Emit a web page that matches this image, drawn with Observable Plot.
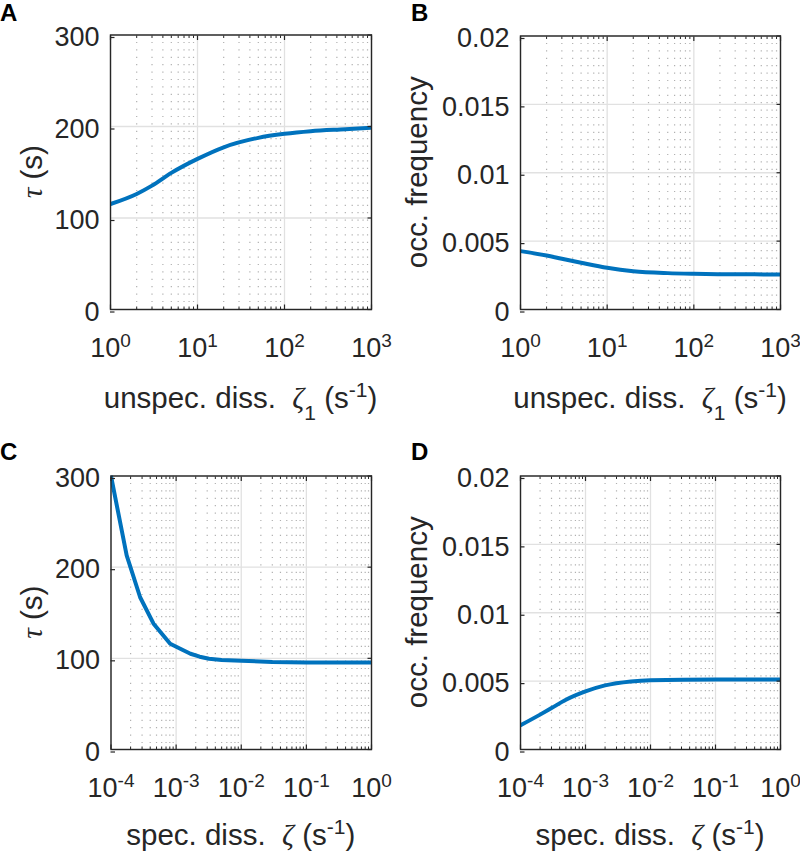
<!DOCTYPE html>
<html><head><meta charset="utf-8">
<script src="https://cdn.jsdelivr.net/npm/d3@7"></script>
<script src="https://cdn.jsdelivr.net/npm/@observablehq/plot@0.6"></script>
<style>
body{margin:0;background:#fff;}
#wrap{position:relative;width:800px;height:854px;font-family:"Liberation Sans",Arial,sans-serif;}
#wrap svg{position:absolute;overflow:visible;}
</style></head><body><div id="wrap"></div>
<script>
// ---- Panel A: tau vs unspecific dissociation zeta1
const zeta1A = [1, 2, 3, 5, 10, 20, 50, 100, 200, 500, 1000];
const tauA   = [115.3, 126.3, 135.4, 149.3, 164.6, 177.3, 187.6, 192.0, 194.9, 197.0, 198.6];
// ---- Panel B: occupancy frequency vs zeta1
const zeta1B = [1, 2, 3, 5, 10, 20, 50, 100, 200, 500, 1000];
const occB   = [0.00427, 0.00395, 0.00371, 0.00342, 0.00305, 0.00280, 0.00266, 0.00261, 0.00258, 0.00257, 0.00256];
// ---- Panel C: tau vs specific dissociation zeta
const zetaC  = [1e-4, 1.74e-4, 2.8e-4, 4.5e-4, 8.1e-4, 1.2e-3, 1.66e-3, 2.3e-3, 3.2e-3, 5e-3, 1e-2, 3e-2, 1e-1, 1];
const tauC   = [300, 213, 167, 138, 116, 110, 105, 101.8, 99.5, 98.2, 97.3, 96.0, 95.5, 95.3];
// ---- Panel D: occupancy frequency vs zeta
const zetaD  = [1e-4, 2e-4, 3e-4, 5e-4, 1e-3, 2e-3, 5e-3, 1e-2, 1e-1, 1];
const occD   = [0.00177, 0.00255, 0.00303, 0.00364, 0.00425, 0.00469, 0.00498, 0.00507, 0.00512, 0.00512];

// ---- tick values / labels
const tauTicks = [0, 100, 200, 300];
const tauTickLabels = ["0", "100", "200", "300"];
const occTicks = [0, 0.005, 0.01, 0.015, 0.02];
const occTickLabels = ["0", "0.005", "0.01", "0.015", "0.02"];
const xTicksTop = [1, 10, 100, 1000];
const xExpTop = ["0", "1", "2", "3"];
const xTicksBottom = [1e-4, 1e-3, 1e-2, 1e-1, 1];
const xExpBottom = ["-4", "-3", "-2", "-1", "0"];

const panelLetters = ["A", "B", "C", "D"];
const yLabelTau = "(s)";
const yLabelOcc = "occ. frequency";
const xLabelTop = "unspec. diss.";
const xLabelBottom = "spec. diss.";

const BLUE = "#0072bd", INK = "#262626";
const TICK_FS = 27, LABEL_FS = 29.5;
const FONT = '"Liberation Sans", Arial, sans-serif';

const wrap = document.getElementById("wrap");

function makePanel(cfg) {
  const xs = cfg.x, ys = cfg.y;
  const data = xs.map((d, i) => ({x: d, y: ys[i]}));
  const majors = cfg.xTicks;
  const minors = d3.scaleLog().domain(cfg.xDomain).ticks().filter(t => !majors.some(m => Math.abs(m - t) / m < 1e-9));
  const expMap = new Map(majors.map((m, i) => [m, cfg.xExp[i]]));
  const yLabMap = new Map(cfg.yTicks.map((m, i) => [m, cfg.yTickLabels[i]]));
  const svg = Plot.plot({
    width: 400, height: 427,
    marginLeft: cfg.ml, marginRight: cfg.mr, marginTop: cfg.mt, marginBottom: cfg.mb,
    style: {fontFamily: FONT, fontSize: TICK_FS + "px", color: INK, background: "transparent", overflow: "visible"},
    x: {type: "log", domain: cfg.xDomain},
    y: {domain: cfg.yDomain},
    marks: [
      Plot.ruleX(minors, {stroke: "#b0b0b0", strokeWidth: 1.2, strokeDasharray: "1.2,6.2"}),
      Plot.ruleX(majors, {stroke: "#e1e1e1", strokeWidth: 1.3}),
      Plot.ruleY(cfg.yTicks, {stroke: "#e1e1e1", strokeWidth: 1.3}),
      Plot.line(data, {x: "x", y: "y", stroke: BLUE, strokeWidth: 4, strokeLinejoin: "round", curve: cfg.curve, clip: true}),
      Plot.axisX(majors, {anchor: "bottom", tickSize: -4.5, tickPadding: 33, tickFormat: d => "10^" + expMap.get(d), label: null, fontSize: TICK_FS, strokeWidth: 1.2}),
      Plot.axisX(majors, {anchor: "top", tickSize: -4.5, tickFormat: () => "", label: null, strokeWidth: 1.2}),
      Plot.axisX(minors, {anchor: "bottom", tickSize: -2.5, tickFormat: () => "", label: null, strokeWidth: 1}),
      Plot.axisX(minors, {anchor: "top", tickSize: -2.5, tickFormat: () => "", label: null, strokeWidth: 1}),
      Plot.axisY(cfg.yTicks, {anchor: "left", tickSize: -4.5, tickPadding: 15.5, dy: 2.5, tickFormat: d => yLabMap.get(d), label: null, fontSize: TICK_FS, strokeWidth: 1.2}),
      Plot.axisY(cfg.yTicks, {anchor: "right", tickSize: -4.5, tickFormat: () => "", label: null, strokeWidth: 1.2}),
      Plot.frame({stroke: INK, strokeWidth: 1.4})
    ]
  });
  svg.style.left = cfg.left + "px";
  svg.style.top = cfg.top + "px";

  // superscript exponents in x tick labels
  d3.select(svg).selectAll("text").each(function() {
    const m = /^10\^(-?\d+)$/.exec(this.textContent);
    if (m) {
      this.textContent = "10";
      d3.select(this).append("tspan").attr("dy", -10.5).attr("font-size", 19).text(m[1]);
    }
  });

  const s = d3.select(svg);
  const plotCx = cfg.ml + (400 - cfg.ml - cfg.mr) / 2;
  const plotCy = cfg.mt + (427 - cfg.mt - cfg.mb) / 2;
  // panel letter
  s.append("text").attr("x", cfg.letterX).attr("y", cfg.letterY).attr("text-anchor", "start")
    .attr("font-size", 24).attr("font-weight", "bold").attr("fill", "#000")
    .attr("font-family", FONT).text(cfg.letter);
  // x label
  const xl = s.append("text").attr("x", plotCx).attr("y", cfg.xLabelY).attr("text-anchor", "middle")
    .attr("font-size", LABEL_FS).attr("fill", INK).attr("font-family", FONT);
  xl.append("tspan").text(cfg.xLabel + "\u00a0 ");
  xl.append("tspan").attr("font-family", '"Liberation Serif", serif').attr("font-style", "italic").text("ζ");
  if (cfg.sub) {
    xl.append("tspan").attr("dy", 12).attr("font-size", 21).text(cfg.sub);
    xl.append("tspan").attr("dy", -12).text(" (s");
  } else {
    xl.append("tspan").text(" (s");
  }
  xl.append("tspan").attr("dy", -11).attr("font-size", 21).text("-1");
  xl.append("tspan").attr("dy", 11).text(")");
  // y label
  const yl = s.append("text").attr("transform", `translate(${cfg.yLabelX},${plotCy}) rotate(-90)`)
    .attr("text-anchor", "middle").attr("font-size", LABEL_FS).attr("fill", INK).attr("font-family", FONT);
  if (cfg.tau) {
    yl.append("tspan").attr("font-family", '"Liberation Serif", serif').attr("font-style", "italic").text("τ");
    yl.append("tspan").text(" " + yLabelTau);
  } else {
    yl.text(yLabelOcc);
  }
  wrap.appendChild(svg);
}

makePanel({x: zeta1A, y: tauA, xDomain: [1, 1000], yDomain: [0, 300], xTicks: xTicksTop, xExp: xExpTop,
  yTicks: tauTicks, yTickLabels: tauTickLabels, ml: 110, mr: 29, mt: 34.5, mb: 118, left: 0, top: 0, curve: "monotone-x",
  letter: panelLetters[0], letterX: 0, letterY: 21, xLabel: xLabelTop, sub: "1", xLabelY: 408, yLabelX: 42, tau: true});
makePanel({x: zeta1B, y: occB, xDomain: [1, 1000], yDomain: [0, 0.02], xTicks: xTicksTop, xExp: xExpTop,
  yTicks: occTicks, yTickLabels: occTickLabels, ml: 120, mr: 20, mt: 35.5, mb: 118, left: 400, top: 0, curve: "monotone-x",
  letter: panelLetters[1], letterX: 11, letterY: 21, xLabel: xLabelTop, sub: "1", xLabelY: 408, yLabelX: 27, tau: false});
makePanel({x: zetaC, y: tauC, xDomain: [1e-4, 1], yDomain: [0, 300], xTicks: xTicksBottom, xExp: xExpBottom,
  yTicks: tauTicks, yTickLabels: tauTickLabels, ml: 110.5, mr: 29, mt: 48.5, mb: 105, left: 0, top: 427, curve: "linear",
  letter: panelLetters[2], letterX: 0, letterY: 33, xLabel: xLabelBottom, sub: null, xLabelY: 418, yLabelX: 42, tau: true});
makePanel({x: zetaD, y: occD, xDomain: [1e-4, 1], yDomain: [0, 0.02], xTicks: xTicksBottom, xExp: xExpBottom,
  yTicks: occTicks, yTickLabels: occTickLabels, ml: 120, mr: 20, mt: 48.5, mb: 105, left: 400, top: 427, curve: "monotone-x",
  letter: panelLetters[3], letterX: 11, letterY: 33, xLabel: xLabelBottom, sub: null, xLabelY: 418, yLabelX: 27, tau: false});
</script></body></html>
